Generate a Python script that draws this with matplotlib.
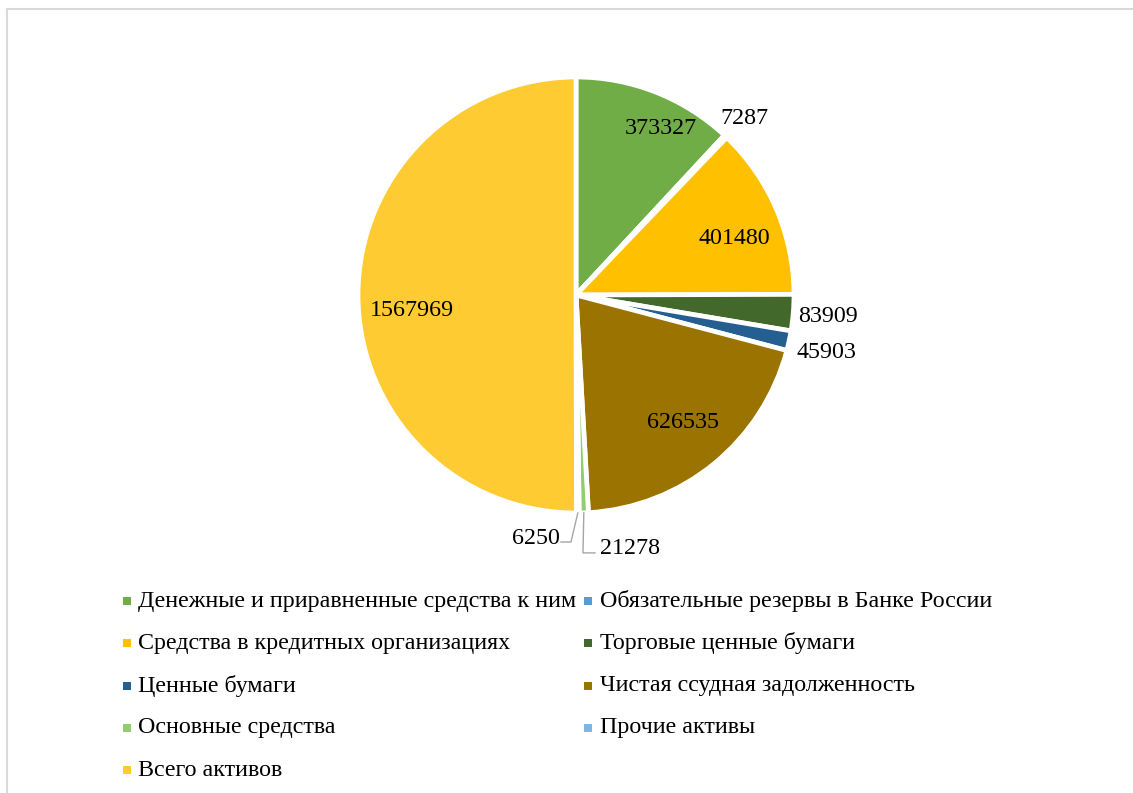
import numpy as np
import matplotlib
matplotlib.use("Agg")
import matplotlib.pyplot as plt
from matplotlib.patches import Rectangle
from matplotlib.lines import Line2D

plt.rcParams["font.family"] = ["Liberation Serif", "DejaVu Serif"]

# Asset structure (thousand RUB)
categories = [
    "Денежные и приравненные средства к ним",
    "Обязательные резервы в Банке России",
    "Средства в кредитных организациях",
    "Торговые ценные бумаги",
    "Ценные бумаги",
    "Чистая ссудная задолженность",
    "Основные средства",
    "Прочие активы",
    "Всего активов",
]
values = [373327, 7287, 401480, 83909, 45903, 626535, 21278, 6250, 1567969]
colors = ["#70AD47", "#5B9BD5", "#FFC000", "#43682B", "#255E91",
          "#9A7300", "#93CB70", "#80B4E2", "#FFCB33"]

W, H = 1133, 793
fig = plt.figure(figsize=(W / 100, H / 100), dpi=100)

# pie placement in pixels
cx, cy, R = 576, 295, 218
ax = fig.add_axes([(cx - R) / W, (H - cy - R) / H, 2 * R / W, 2 * R / H])
wedges, _ = ax.pie(values, colors=colors, startangle=90, counterclock=False,
                   radius=1.0,
                   wedgeprops=dict(edgecolor="white", linewidth=3.4))
ax.set_xlim(-1, 1)
ax.set_ylim(-1, 1)
ax.set_aspect("equal")
ax.axis("off")

FS = 17.3

# label placement: (radial distance, angular shift in degrees)
label_layout = [
    (0.86, -5.6), (1.12, -0.4), (0.77, -3.6), (1.16, -0.3), (1.18, -0.7),
    (0.765, 0.8), None, None, (0.755, 5.2),
]
for w, v, lay in zip(wedges, values, label_layout):
    if lay is None:
        continue
    r, dth = lay
    mid = np.deg2rad((w.theta1 + w.theta2) / 2 + dth)
    ax.text(r * np.cos(mid), r * np.sin(mid), f"{v}", ha="center",
            va="center", fontsize=FS, color="black", clip_on=False)

# small slices at the bottom: labels with leader lines
leader_color = "#A6A6A6"
small = {
    7: dict(text_xy=(-0.075, -1.115), elbow=(-0.023, -1.133), end=(-0.069, -1.133), ha="right"),
    6: dict(text_xy=(0.11, -1.165), elbow=(0.032, -1.183), end=(0.087, -1.183), ha="left"),
}
for idx, spec in small.items():
    w = wedges[idx]
    mid = np.deg2rad((w.theta1 + w.theta2) / 2)
    sx, sy = np.cos(mid), np.sin(mid)
    ex, ey = spec["elbow"]
    tx, ty = spec["end"]
    ax.add_line(Line2D([sx, ex, tx], [sy, ey, ty], color=leader_color,
                       linewidth=1.0, clip_on=False))
    ax.text(spec["text_xy"][0], spec["text_xy"][1], f"{values[idx]}",
            ha=spec["ha"], va="center", fontsize=FS, clip_on=False)

# legend: two columns, filled row by row
row_y = [601, 643, 686, 728, 770]
col_marker_x = [123, 584]
col_text_x = [138, 600]
sq = 8
for i, (name, col) in enumerate(zip(categories, colors)):
    r, c = divmod(i, 2)
    y = row_y[r]
    fig.add_artist(Rectangle(((col_marker_x[c]) / W, (H - y - sq / 2) / H),
                             sq / W, sq / H, facecolor=col, edgecolor="none",
                             transform=fig.transFigure))
    fig.text(col_text_x[c] / W, (H - y) / H, name, ha="left", va="center",
             fontsize=FS, color="black")

# chart area border
border = "#D9D9D9"
fig.add_artist(Line2D([7 / W, 1.0], [1 - 9 / H, 1 - 9 / H], color=border,
                      linewidth=1.5, transform=fig.transFigure))
fig.add_artist(Line2D([7 / W, 7 / W], [1 - 9 / H, 0.0], color=border,
                      linewidth=1.5, transform=fig.transFigure))

fig.savefig("out.png", dpi=100, facecolor="white")
